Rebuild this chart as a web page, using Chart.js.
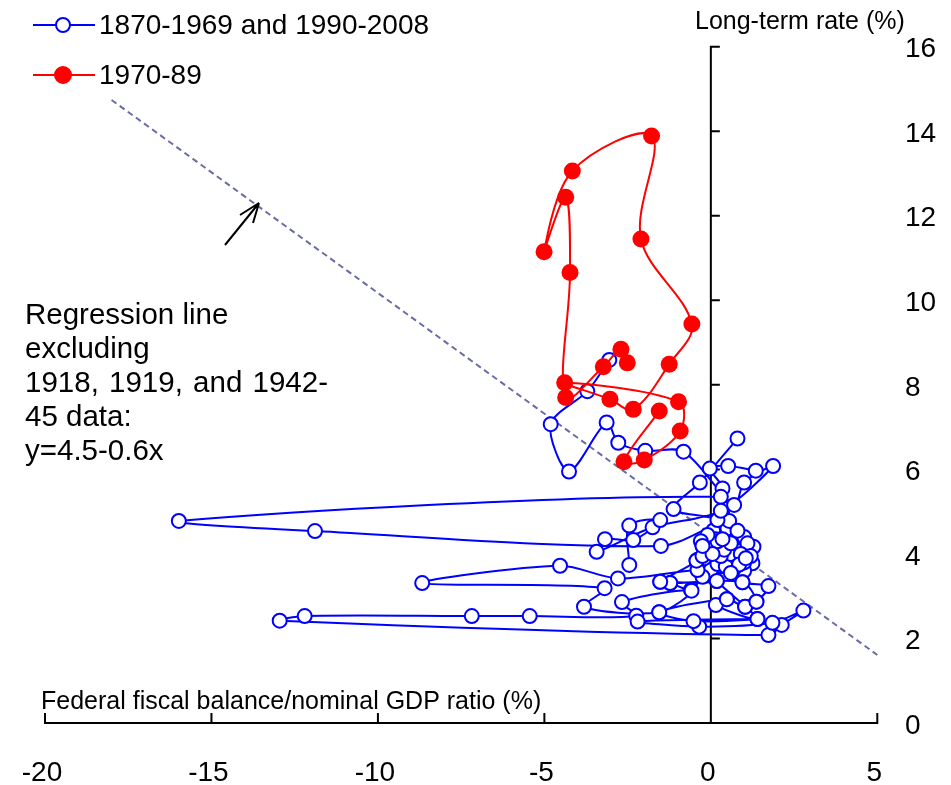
<!DOCTYPE html>
<html><head><meta charset="utf-8">
<script src="https://cdn.jsdelivr.net/npm/chart.js@4"></script>
<style>html,body{margin:0;padding:0;background:#fff}#wrap{width:951px;height:785px;position:relative}</style>
</head><body><div id="wrap"><canvas id="c"></canvas></div>
<script>
// ---- data ----
const xTicks = [-20, -15, -10, -5, 0, 5];
const yTicks = [0, 2, 4, 6, 8, 10, 12, 14, 16];
const blueLabel = "1870-1969 and 1990-2008";
const redLabel = "1970-89";
const xTitle = "Federal fiscal balance/nominal GDP ratio (%)";
const yTitle = "Long-term rate (%)";
const noteLines = ["Regression line", "excluding", "1918, 1919, and 1942-", "45 data:", "y=4.5-0.6x"];

// 1870-1969, gap (null), 1990-2008
const blueX = [1.35,0.52,-0.03,0.35,0.07,0.35,1.28,0.80,0.45,1.25,
  1.00,0.70,0.95,1.73,1.37,1.03,0.48,0.15,1.40,0.18,
  0.00,-0.25,-0.60,-1.22,-1.52,-0.43,-0.25,0.05,-0.40,0.20,
  0.45,0.90,0.60,0.10,-0.10,0.15,0.50,0.30,-0.20,0.00,
  0.30,0.40,0.20,0.60,-0.10,-0.30,0.50,0.30,-15.98,-11.89,
  -1.50,0.55,1.00,0.80,1.10,0.90,1.20,1.00,0.85,1.05,
  0.60,-0.40,-2.79,-4.53,-8.67,-3.19,-3.81,-1.55,-0.58,-2.67,
  -2.24,-5.44,-7.18,-12.20,-12.95,1.73,2.13,2.78,1.85,-0.35,
  -2.20,1.40,-0.52,-1.55,0.48,1.03,1.37,0.95,-1.22,-1.52,
  0.18,-0.43,-0.25,0.05,-0.25,0.35,0.20,-1.12,-0.33,0.80,
  null,
  -3.05,-3.71,-4.81,-4.26,-3.13,-2.78,-1.97,-0.82,0.70,1.00,
  1.87,0.30,-1.75,-3.43,-3.18,-2.33,-1.52,-2.45,-2.45];
const blueY = [5.97,6.08,6.02,5.55,4.55,4.35,4.17,4.07,3.98,3.78,
  3.60,3.66,3.33,3.24,2.87,2.75,2.93,2.79,2.46,3.36,
  3.62,3.46,3.15,3.31,3.34,3.84,4.19,3.96,3.86,3.76,
  3.70,3.85,4.00,4.05,4.25,4.35,4.45,4.20,3.90,4.10,
  3.95,4.10,4.30,4.25,4.45,4.30,4.60,5.35,4.78,4.54,
  4.19,4.78,4.40,4.55,4.25,4.00,3.95,3.80,3.75,3.90,
  3.55,3.62,3.42,3.72,3.31,3.19,2.75,2.62,3.13,2.86,
  2.54,2.53,2.53,2.53,2.42,2.08,2.32,2.66,2.37,2.28,
  2.40,2.46,2.41,2.62,2.93,2.75,2.87,3.33,3.31,3.34,
  3.36,3.84,3.95,4.00,4.19,4.35,4.80,5.06,5.69,6.73,
  null,
  8.59,7.85,7.07,5.95,7.11,6.63,6.44,6.42,5.16,5.69,
  6.08,5.02,4.63,4.05,4.35,4.33,4.80,4.67,3.74];

const redX = [-1.55,-2.61,-2.00,-0.92,-0.97,-4.39,-3.03,-2.33,-1.25,-0.57,
  -2.10,-1.78,-4.16,-5.01,-4.36,-4.23,-4.36,-3.23,-2.70,-2.51];
const redY = [7.38,6.18,6.22,6.91,7.60,8.05,7.66,7.42,8.49,9.44,
  11.45,13.89,13.06,11.15,12.44,10.66,7.70,8.43,8.84,8.52];

const regX = [-18, 5];
const regY = [14.74, 1.61];

// ---- build ----
const pts = (xs, ys) => xs.map((v, i) => ({x: v === null ? null : v, y: ys[i] === null ? null : ys[i]}));
const BLUE = '#0000ff', RED = '#ff0000', REG = '#6b6ba6';
const FONT = '"Liberation Sans", Arial, sans-serif';

const deco = {
  id: 'deco',
  beforeDatasetsDraw(chart) {
    const {ctx} = chart; const xs = chart.scales.x, ys = chart.scales.y;
    const x0 = xs.getPixelForValue(0), y0 = ys.getPixelForValue(0);
    ctx.save();
    ctx.strokeStyle = '#000'; ctx.lineWidth = 2;
    ctx.beginPath();
    ctx.moveTo(xs.getPixelForValue(xTicks[0]), y0);
    ctx.lineTo(xs.getPixelForValue(xTicks[xTicks.length - 1]), y0);
    xTicks.forEach(t => { const p = xs.getPixelForValue(t); ctx.moveTo(p, y0 + 1); ctx.lineTo(p, y0 - 10); });
    ctx.moveTo(x0, ys.getPixelForValue(yTicks[0]));
    ctx.lineTo(x0, ys.getPixelForValue(yTicks[yTicks.length - 1]));
    yTicks.forEach(t => { const p = ys.getPixelForValue(t); ctx.moveTo(x0 - 1, p); ctx.lineTo(x0 + 9, p); });
    ctx.stroke();
    ctx.restore();
  },
  afterDraw(chart) {
    const {ctx} = chart; const xs = chart.scales.x, ys = chart.scales.y;
    ctx.save();
    ctx.fillStyle = '#000';
    // tick labels
    ctx.font = '28px ' + FONT; ctx.textAlign = 'center'; ctx.textBaseline = 'middle';
    xTicks.forEach(t => ctx.fillText(String(t), xs.getPixelForValue(t) - 3, 773));
    ctx.textAlign = 'left';
    yTicks.forEach(t => ctx.fillText(String(t), 905, ys.getPixelForValue(t) + 3));
    // axis titles
    ctx.font = '25px ' + FONT; ctx.textBaseline = 'alphabetic';
    ctx.fillText(yTitle, 695, 29);
    ctx.fillText(xTitle, 41, 709);
    // note
    ctx.font = '29.5px ' + FONT;
    const nx = 25, nb = 324, lh = 34;
    noteLines.forEach((s, i) => {
      const by = nb + i * lh;
      if (i === 2) {
        const words = s.split(' ');
        const target = 303;
        const wsum = words.reduce((a, w) => a + ctx.measureText(w).width, 0);
        const gap = (target - wsum) / (words.length - 1);
        let cx = nx;
        words.forEach(w => { ctx.fillText(w, cx, by); cx += ctx.measureText(w).width + gap; });
      } else ctx.fillText(s, nx, by);
    });
    // arrow
    ctx.strokeStyle = '#000'; ctx.lineWidth = 2;
    ctx.beginPath();
    ctx.moveTo(225, 245); ctx.lineTo(259, 203);
    ctx.moveTo(259, 203); ctx.lineTo(240, 215);
    ctx.moveTo(259, 203); ctx.lineTo(253, 223);
    ctx.stroke();
    // legend
    ctx.font = '28px ' + FONT; ctx.textBaseline = 'middle';
    const leg = [[blueLabel, BLUE, '#fff', 25], [redLabel, RED, RED, 75]];
    leg.forEach(([lab, col, fill, ly]) => {
      ctx.strokeStyle = col; ctx.lineWidth = 2;
      ctx.beginPath(); ctx.moveTo(33, ly); ctx.lineTo(95, ly); ctx.stroke();
      ctx.beginPath(); ctx.arc(63, ly, col === RED ? 8 : 7, 0, Math.PI * 2);
      ctx.fillStyle = fill; ctx.fill(); ctx.stroke();
      ctx.fillStyle = '#000'; ctx.fillText(lab, 99, ly + 1);
    });
    ctx.restore();
  }
};

new Chart(document.getElementById('c'), {
  type: 'scatter',
  data: {
    datasets: [
      {label: redLabel, data: pts(redX, redY), showLine: true, tension: 0.35, borderColor: RED, borderWidth: 2,
       pointRadius: 8.5, pointBackgroundColor: RED, pointBorderColor: RED, pointBorderWidth: 0, order: 1, clip: false},
      {label: blueLabel, data: pts(blueX, blueY), showLine: true, spanGaps: false, tension: 0.3, borderColor: BLUE, borderWidth: 2,
       pointRadius: 7, pointBackgroundColor: '#fff', pointBorderColor: BLUE, pointBorderWidth: 2, order: 2, clip: false},
      {label: 'Regression', data: pts(regX, regY), showLine: true, borderColor: REG, borderWidth: 2, borderDash: [6, 4],
       pointRadius: 0, order: 3, clip: false}
    ]
  },
  options: {
    responsive: true, maintainAspectRatio: false, animation: false,
    layout: {padding: {left: 45, right: 73.7, top: 46.7, bottom: 62}},
    plugins: {legend: {display: false}, tooltip: {enabled: false}},
    scales: {
      x: {type: 'linear', min: -20, max: 5, display: false},
      y: {type: 'linear', min: 0, max: 16, display: false}
    }
  },
  plugins: [deco]
});
</script>
</body></html>
